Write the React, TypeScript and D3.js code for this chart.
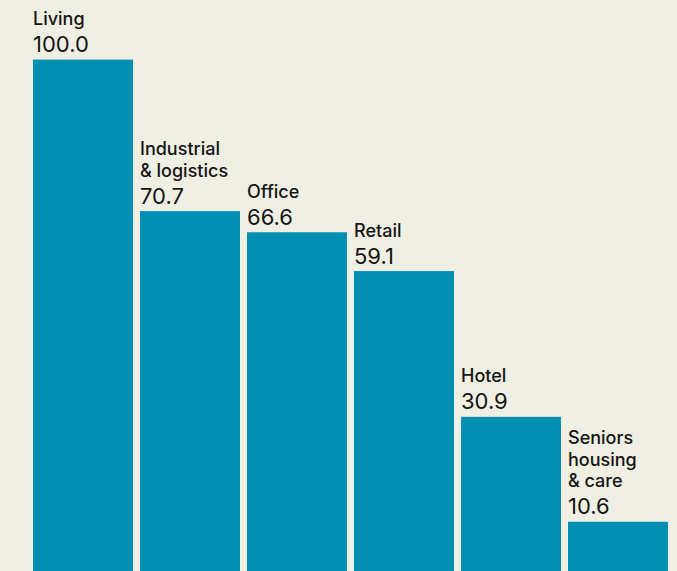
import React from "react";
import * as d3 from "d3";

const categories: string[][] = [
  ["Living"],
  ["Industrial", "& logistics"],
  ["Office"],
  ["Retail"],
  ["Hotel"],
  ["Seniors", "housing", "& care"],
];
const values: number[] = [100.0, 70.7, 66.6, 59.1, 30.9, 10.6];
const valueLabels: string[] = ["100.0", "70.7", "66.6", "59.1", "30.9", "10.6"];

const W = 677;
const H = 571;

export default function App() {
  const x = d3
    .scaleBand<number>()
    .domain(values.map((_, i) => i))
    .range([33, 668])
    .paddingInner(7 / 107)
    .paddingOuter(0);
  const y = d3.scaleLinear().domain([0, 100]).range([576.6, 59.6]);
  const font = "Inter, 'Liberation Sans', Arial, sans-serif";
  return (
    <svg
      width={W}
      height={H}
      style={{ position: "absolute", left: 0, top: 0, display: "block" }}
    >
      <rect x={0} y={0} width={W} height={H} fill="#F0EFE3" />
      {values.map((v, i) => {
        const x0 = x(i)!;
        const top = y(v);
        const lines = categories[i];
        const lastBase = top - 34.5;
        return (
          <g key={i}>
            <rect
              x={x0}
              y={top}
              width={x.bandwidth()}
              height={H - top + 10}
              fill="#008FB3"
            />
            <text
              x={x0}
              y={top - 7.5}
              fontFamily={font}
              fontSize={22}
              fontWeight={400}
              fill="#141414"
            >
              {valueLabels[i]}
            </text>
            {lines.map((ln, j) => (
              <text
                key={j}
                x={x0}
                y={lastBase - (lines.length - 1 - j) * 21.7}
                fontFamily={font}
                fontSize={18}
                fontWeight={500}
                fill="#141414"
              >
                {ln}
              </text>
            ))}
          </g>
        );
      })}
    </svg>
  );
}
